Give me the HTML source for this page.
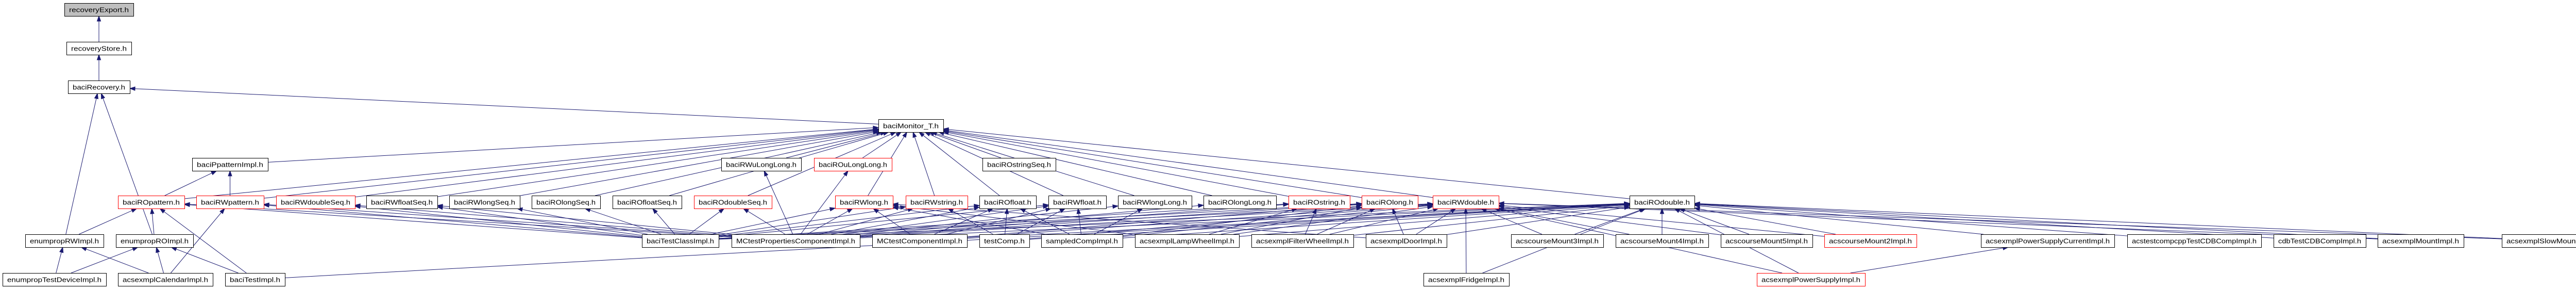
<!DOCTYPE html>
<html><head><meta charset="utf-8"><style>
html,body{margin:0;padding:0;background:#fff;}
svg{display:block;}
text{font-family:"Liberation Sans",sans-serif;font-size:13px;fill:#000;}
</style></head><body>
<svg id="g" width="5059" height="560" viewBox="0 0 5059 560" xmlns="http://www.w3.org/2000/svg">
<g id="edges"></g>
<g id="nodes"></g>
</svg>
<script>
const nodeNames=["recoveryExport.h","recoveryStore.h","baciRecovery.h","baciMonitor_T.h",
"baciPpatternImpl.h","baciRWuLongLong.h","baciROuLongLong.h","baciROstringSeq.h",
"baciROpattern.h","baciRWpattern.h","baciRWdoubleSeq.h","baciRWfloatSeq.h","baciRWlongSeq.h","baciROlongSeq.h","baciROfloatSeq.h","baciROdoubleSeq.h","baciRWlong.h","baciRWstring.h","baciROfloat.h","baciRWfloat.h","baciRWlongLong.h","baciROlongLong.h","baciROstring.h","baciROlong.h","baciRWdouble.h","baciROdouble.h",
"enumpropRWImpl.h","enumpropROImpl.h","baciTestClassImpl.h","MCtestPropertiesComponentImpl.h","MCtestComponentImpl.h","testComp.h","sampledCompImpl.h","acsexmplLampWheelImpl.h","acsexmplFilterWheelImpl.h","acsexmplDoorImpl.h","acscourseMount3Impl.h","acscourseMount4Impl.h","acscourseMount5Impl.h","acscourseMount2Impl.h","acsexmplPowerSupplyCurrentImpl.h","acstestcompcppTestCDBCompImpl.h","cdbTestCDBCompImpl.h","acsexmplMountImpl.h","acsexmplSlowMountImpl.h",
"enumpropTestDeviceImpl.h","acsexmplCalendarImpl.h","baciTestImpl.h","acsexmplFridgeImpl.h","acsexmplPowerSupplyImpl.h"];
const nodeX0=[125,129,132,1705, 373,1400,1580,1907, 229,381,536,711,872,1032,1189,1347,1621,1758,1901,2035,2170,2336,2501,2643,2781,3163,
49,225,1246,1420,1693,1901,2021,2203,2429,2651,2933,3136,3340,3541,3845,4129,4413,4615,4856, 5,229,437,2763,3410];
const nodeX1=[259,255,252,1831, 520,1555,1731,2049, 358,512,689,849,1009,1165,1323,1498,1733,1878,2011,2147,2313,2477,2620,2752,2909,3289,
201,375,1395,1669,1877,1998,2179,2405,2627,2808,3112,3316,3518,3720,4104,4389,4592,4782,5054, 206,413,553,2929,3620];
const nodeRow=[0,1,2,3, 4,4,4,4, 5,5,5,5,5,5,5,5,5,5,5,5,5,5,5,5,5,5, 6,6,6,6,6,6,6,6,6,6,6,6,6,6,6,6,6,6,6, 7,7,7,7,7];
const nodeStyle="gbbb"+"bbrb"+"rrrbbbbrrrbbbbrrrb"+"bbbbbbbbbbbbbrbbbbb"+"bbbbr";
const rowTop=[6,81,156,231,306,379,454,529];
const H=25;
const edgeList=[
["recoveryStore.h","recoveryExport.h"],["baciRecovery.h","recoveryStore.h"],
["baciMonitor_T.h","baciRecovery.h"],["enumpropRWImpl.h","baciRecovery.h"],["enumpropROImpl.h","baciRecovery.h"],
["baciPpatternImpl.h","baciMonitor_T.h"],["baciRWuLongLong.h","baciMonitor_T.h"],["baciROuLongLong.h","baciMonitor_T.h"],["baciROstringSeq.h","baciMonitor_T.h"],
["baciROpattern.h","baciPpatternImpl.h"],["baciRWpattern.h","baciPpatternImpl.h"],
["enumpropRWImpl.h","baciROpattern.h"],["enumpropROImpl.h","baciROpattern.h"],
["enumpropTestDeviceImpl.h","enumpropRWImpl.h"],["enumpropTestDeviceImpl.h","enumpropROImpl.h"],
["acsexmplCalendarImpl.h","enumpropRWImpl.h"],["acsexmplCalendarImpl.h","enumpropROImpl.h"],["acsexmplCalendarImpl.h","baciRWpattern.h"],
["baciTestImpl.h","enumpropROImpl.h"],["baciTestImpl.h","baciROpattern.h"],["baciTestImpl.h","baciROdouble.h"],
["MCtestPropertiesComponentImpl.h","baciRWuLongLong.h"],["MCtestPropertiesComponentImpl.h","baciROuLongLong.h"],
["acsexmplFridgeImpl.h","baciRWdouble.h"],["acsexmplFridgeImpl.h","baciROdouble.h"],
["acsexmplPowerSupplyImpl.h","baciROdouble.h"],["acsexmplPowerSupplyImpl.h","baciRWdouble.h"],
["acsexmplPowerSupplyImpl.h","acsexmplPowerSupplyCurrentImpl.h"],
["acsexmplMountImpl.h","baciROdouble.h"],["acsexmplSlowMountImpl.h","baciROdouble.h"],
["cdbTestCDBCompImpl.h","baciROdouble.h"],["acstestcompcppTestCDBCompImpl.h","baciROdouble.h"],["acsexmplPowerSupplyCurrentImpl.h","baciROdouble.h"],
["acsexmplMountImpl.h","baciRWdouble.h"],["acsexmplSlowMountImpl.h","baciRWdouble.h"]
];
const monitorKids=["baciROpattern.h","baciRWpattern.h","baciRWdoubleSeq.h","baciRWfloatSeq.h","baciRWlongSeq.h","baciROlongSeq.h","baciROfloatSeq.h","baciROdoubleSeq.h","baciRWlong.h","baciRWstring.h","baciROfloat.h","baciRWfloat.h","baciRWlongLong.h","baciROlongLong.h","baciROstring.h","baciROlong.h","baciRWdouble.h","baciROdouble.h"];
const row454Parents={
"baciTestClassImpl.h":["baciROpattern.h","baciRWpattern.h","baciRWdoubleSeq.h","baciRWfloatSeq.h","baciRWlongSeq.h","baciROlongSeq.h","baciROfloatSeq.h","baciROdoubleSeq.h","baciRWlong.h","baciRWstring.h","baciROfloat.h","baciRWfloat.h","baciROstring.h","baciROlong.h","baciRWdouble.h","baciROdouble.h"],
"MCtestPropertiesComponentImpl.h":["baciROpattern.h","baciRWpattern.h","baciRWdoubleSeq.h","baciRWfloatSeq.h","baciROdoubleSeq.h","baciRWlong.h","baciRWstring.h","baciROfloat.h","baciRWfloat.h","baciRWlongLong.h","baciROlongLong.h","baciROstring.h","baciROlong.h","baciRWdouble.h","baciROdouble.h"],
"MCtestComponentImpl.h":["baciRWlong.h","baciROfloat.h","baciRWfloat.h","baciROlong.h","baciRWdouble.h","baciROdouble.h"],
"testComp.h":["baciROfloat.h","baciRWfloat.h","baciRWstring.h","baciROdouble.h","baciRWdouble.h"],
"sampledCompImpl.h":["baciRWlong.h","baciROfloat.h","baciRWfloat.h","baciRWlongLong.h","baciROlong.h","baciRWdouble.h","baciROdouble.h"],
"acsexmplLampWheelImpl.h":["baciRWlong.h","baciROstring.h","baciROlong.h","baciRWdouble.h","baciROdouble.h"],
"acsexmplFilterWheelImpl.h":["baciROstring.h","baciROlong.h","baciRWdouble.h","baciROdouble.h"],
"acsexmplDoorImpl.h":["baciROlong.h","baciRWdouble.h","baciROdouble.h","baciRWlong.h"],
"acscourseMount3Impl.h":["baciRWdouble.h","baciROdouble.h"],
"acscourseMount4Impl.h":["baciRWdouble.h","baciROdouble.h"],
"acscourseMount5Impl.h":["baciRWdouble.h","baciROdouble.h"],
"acscourseMount2Impl.h":["baciRWdouble.h","baciROdouble.h"]
};
const NS="http://www.w3.org/2000/svg";
const N={};
nodeNames.forEach((n,i)=>{N[n]={x:nodeX0[i],w:nodeX1[i]-nodeX0[i],y:rowTop[nodeRow[i]],s:nodeStyle[i]};});
const allEdges=edgeList.slice();
monitorKids.forEach(k=>allEdges.push([k,"baciMonitor_T.h"]));
Object.keys(row454Parents).forEach(c=>row454Parents[c].forEach(p=>allEdges.push([c,p])));

function clip(r,cx,cy,tx,ty){
  const dx=tx-cx,dy=ty-cy;let t=1;
  if(dx!==0){t=Math.min(t,r.w/2/Math.abs(dx));}
  if(dy!==0){t=Math.min(t,H/2/Math.abs(dy));}
  return [cx+dx*t,cy+dy*t];
}
const eg=document.getElementById('edges');
allEdges.forEach(([c,p])=>{
  const C=N[c],P=N[p];if(!C||!P)return;
  const ccx=C.x+C.w/2,ccy=C.y+H/2,pcx=P.x+P.w/2,pcy=P.y+H/2;
  const a=clip(C,ccx,ccy,pcx,pcy),b=clip(P,pcx,pcy,ccx,ccy);
  const dx=b[0]-a[0],dy=b[1]-a[1],L=Math.hypot(dx,dy)||1,ux=dx/L,uy=dy/L;
  const ex=b[0]-ux*10,ey=b[1]-uy*10;
  const ln=document.createElementNS(NS,'line');
  ln.setAttribute('x1',a[0]);ln.setAttribute('y1',a[1]);ln.setAttribute('x2',ex);ln.setAttribute('y2',ey);
  ln.setAttribute('stroke','#191970');ln.setAttribute('stroke-width','1');
  
  
  eg.appendChild(ln);
  const ar=document.createElementNS(NS,'polygon');
  const px=-uy,py=ux;
  ar.setAttribute('points',`${b[0]},${b[1]} ${ex+px*3.5},${ey+py*3.5} ${ex-px*3.5},${ey-py*3.5}`);
  ar.setAttribute('fill','#191970');ar.setAttribute('stroke','#191970');
  
  
  eg.appendChild(ar);
});
const ng=document.getElementById('nodes');
nodeNames.forEach(n=>{
  const d=N[n];
  const g=document.createElementNS(NS,'g');
  
  
  const r=document.createElementNS(NS,'rect');
  r.setAttribute('x',d.x+0.5);r.setAttribute('y',d.y+0.5);r.setAttribute('width',d.w);r.setAttribute('height',H);
  r.setAttribute('fill',d.s==='g'?'#bfbfbf':'#fff');
  r.setAttribute('stroke',d.s==='r'?'#ff0000':'#000');r.setAttribute('stroke-width','1');
  g.appendChild(r);
  const t=document.createElementNS(NS,'text');
  t.setAttribute('x',d.x+9);t.setAttribute('y',d.y+17.5);
  t.setAttribute('textLength',d.w-18);t.setAttribute('lengthAdjust','spacingAndGlyphs');
  t.textContent=n;
  g.appendChild(t);
  ng.appendChild(g);
});
</script>
</body></html>
